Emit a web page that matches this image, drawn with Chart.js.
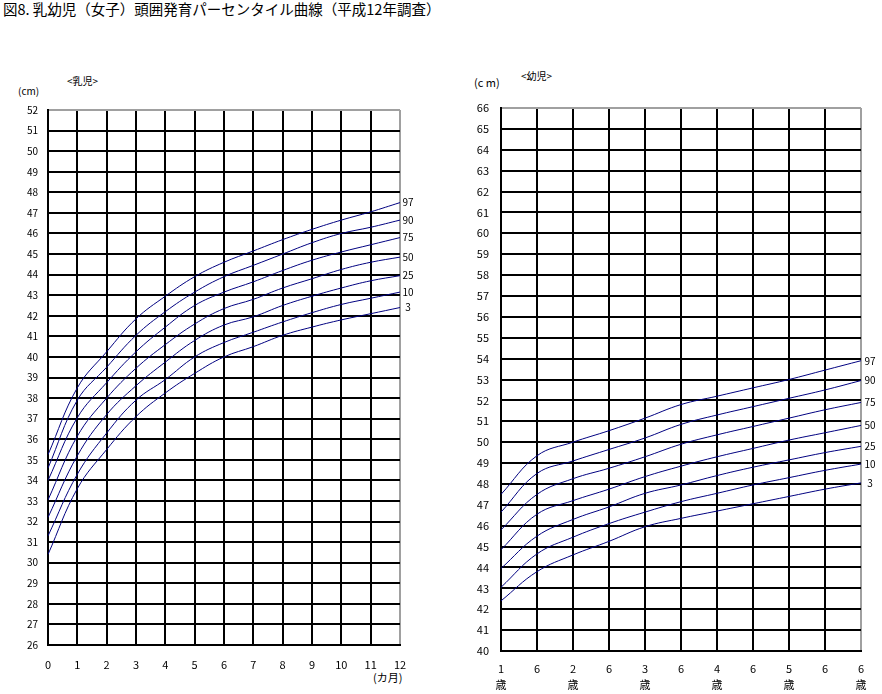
<!DOCTYPE html>
<html lang="ja">
<head>
<meta charset="utf-8">
<script src="https://cdn.jsdelivr.net/npm/chart.js@4"></script>
<style>
    html, body { margin: 0; padding: 0; background: #fff; }
    body { width: 882px; height: 694px; position: relative; overflow: hidden;
           font-family: "Noto Sans CJK JP", sans-serif; color: #000; }
    .txt { position: absolute; white-space: nowrap; line-height: 1; }
    canvas { position: absolute; }
</style>
</head>
<body>
<div class="txt" style="left:3px;top:2px;font-size:14.5px;">図8. 乳幼児（女子）頭囲発育パーセンタイル曲線（平成12年調査）</div>
<div class="txt" style="left:67px;top:76px;font-size:10px;">&lt;乳児&gt;</div>
<div class="txt" style="left:18px;top:86px;font-size:10px;">(cm)</div>
<div class="txt" style="left:373px;top:672px;font-size:11px;">(カ月)</div>
<div class="txt" style="left:521px;top:71px;font-size:10px;">&lt;幼児&gt;</div>
<div class="txt" style="left:474px;top:77px;font-size:11px;">(c m)</div>

<canvas id="infantChart" width="440" height="634" style="left:0;top:60px;"></canvas>
<canvas id="childChart" width="442" height="634" style="left:440px;top:60px;"></canvas>

<script>
// ==================== DATA ====================

const percentiles = ['97', '90', '75', '50', '25', '10', '3'];

// 乳児: 0-12 months
const infantMonths = [0, 1, 2, 3, 4, 5, 6, 7, 8, 9, 10, 11, 12];
const infant97 = [35.25, 38.5, 40.25, 41.85, 42.95, 43.9, 44.6, 45.15, 45.7, 46.2, 46.65, 47.05, 47.5];
const infant90 = [34.6, 37.9, 39.5, 41.05, 42.2, 43.15, 43.9, 44.45, 45.0, 45.55, 46.0, 46.3, 46.65];
const infant75 = [34.0, 37.05, 38.75, 40.25, 41.45, 42.5, 43.15, 43.65, 44.2, 44.7, 45.1, 45.45, 45.8];
const infant50 = [33.05, 36.15, 38.0, 39.45, 40.6, 41.6, 42.35, 42.8, 43.35, 43.8, 44.25, 44.6, 44.85];
const infant25 = [32.2, 35.2, 37.2, 38.6, 39.75, 40.8, 41.55, 41.95, 42.5, 42.95, 43.35, 43.7, 43.95];
const infant10 = [31.3, 34.3, 36.3, 37.9, 38.9, 40.0, 40.7, 41.2, 41.7, 42.15, 42.55, 42.85, 43.15];
const infant3 = [30.4, 33.6, 35.5, 37.1, 38.25, 39.2, 40.0, 40.5, 41.05, 41.45, 41.8, 42.1, 42.4];

// 幼児: 1-6 years, half-year steps
const childYears = [1, 1.5, 2, 2.5, 3, 3.5, 4, 4.5, 5, 5.5, 6];
const child97 = [47.5, 49.35, 50.0, 50.55, 51.15, 51.8, 52.2, 52.6, 53.0, 53.45, 53.9];
const child90 = [46.65, 48.5, 49.1, 49.65, 50.2, 50.85, 51.3, 51.7, 52.1, 52.5, 52.95];
const child75 = [45.8, 47.5, 48.25, 48.75, 49.3, 49.9, 50.35, 50.75, 51.15, 51.55, 51.9];
const child50 = [44.85, 46.55, 47.2, 47.75, 48.35, 48.85, 49.3, 49.7, 50.1, 50.45, 50.8];
const child25 = [43.95, 45.5, 46.3, 46.9, 47.55, 47.95, 48.4, 48.8, 49.15, 49.5, 49.8];
const child10 = [43.05, 44.65, 45.45, 46.1, 46.65, 47.15, 47.55, 47.95, 48.3, 48.65, 48.95];
const child3 = [42.4, 43.8, 44.6, 45.25, 45.95, 46.35, 46.7, 47.05, 47.4, 47.75, 48.05];

// ==================== HELPERS ====================

const FONT = '"Noto Sans CJK JP", sans-serif';
const LINE_COLOR = '#000080';

function buildDatasets(xs, series) {
    return series.map((ys, i) => ({
        label: percentiles[i],
        data: ys.map((y, j) => ({ x: xs[j], y: y })),
        borderColor: LINE_COLOR,
        borderWidth: 1,
        pointRadius: 0,
        fill: false,
        tension: 0.4
    }));
}

// percentile names at the right end of each curve
const endLabels = {
    id: 'endLabels',
    afterDatasetsDraw(chart, args, opts) {
        const ctx = chart.ctx;
        ctx.save();
        ctx.font = opts.size + 'px ' + FONT;
        ctx.fillStyle = '#000';
        ctx.textAlign = 'center';
        ctx.textBaseline = 'middle';
        chart.data.datasets.forEach((ds, i) => {
            const pts = chart.getDatasetMeta(i).data;
            const last = pts[pts.length - 1];
            ctx.fillText(ds.label, chart.chartArea.right + opts.offset, last.y);
        });
        ctx.restore();
    }
};

function gridColor(max) {
    return (c) => (c.tick && c.tick.value === max) ? '#a0a0a0' : '#000';
}

// ==================== INFANT CHART ====================

function setupInfantChart() {
    const ctx = document.getElementById('infantChart');
    new Chart(ctx, {
        type: 'line',
        data: {
            datasets: buildDatasets(infantMonths,
                [infant97, infant90, infant75, infant50, infant25, infant10, infant3])
        },
        plugins: [endLabels],
        options: {
            responsive: false,
            animation: false,
            layout: { padding: { left: 0, right: 40, top: 50, bottom: 0 } },
            plugins: {
                legend: { display: false },
                tooltip: { enabled: false },
                endLabels: { size: 10, offset: 8 }
            },
            scales: {
                x: {
                    type: 'linear',
                    min: 0,
                    max: 12,
                    afterFit: (s) => { s.height = 49; },
                    border: { color: '#000', width: 2 },
                    grid: { color: gridColor(12), lineWidth: 2, drawTicks: false },
                    ticks: { stepSize: 1, padding: 13, color: '#000', maxRotation: 0,
                             font: { family: FONT, size: 11 } }
                },
                y: {
                    min: 26,
                    max: 52,
                    afterFit: (s) => { s.width = 48; },
                    border: { color: '#000', width: 2 },
                    grid: { color: gridColor(52), lineWidth: 2, drawTicks: false },
                    ticks: { stepSize: 1, padding: 10, color: '#000',
                             font: { family: FONT, size: 10 } }
                }
            }
        }
    });
}

// ==================== CHILD CHART ====================

function setupChildChart() {
    const ctx = document.getElementById('childChart');
    new Chart(ctx, {
        type: 'line',
        data: {
            datasets: buildDatasets(childYears,
                [child97, child90, child75, child50, child25, child10, child3])
        },
        plugins: [endLabels],
        options: {
            responsive: false,
            animation: false,
            layout: { padding: { left: 0, right: 21, top: 48, bottom: 0 } },
            plugins: {
                legend: { display: false },
                tooltip: { enabled: false },
                endLabels: { size: 10, offset: 9 }
            },
            scales: {
                x: {
                    type: 'linear',
                    min: 1,
                    max: 6,
                    afterFit: (s) => { s.height = 43; },
                    border: { color: '#000', width: 2 },
                    grid: { color: gridColor(6), lineWidth: 2, drawTicks: false },
                    ticks: {
                        stepSize: 0.5,
                        padding: 10,
                        color: '#000',
                        maxRotation: 0,
                        autoSkip: false,
                        font: { family: FONT, size: 11, lineHeight: 1.45 },
                        callback: (v) => Number.isInteger(v) ? [String(v), '歳'] : '6'
                    }
                },
                y: {
                    min: 40,
                    max: 66,
                    afterFit: (s) => { s.width = 61; },
                    border: { color: '#000', width: 2 },
                    grid: { color: gridColor(66), lineWidth: 2, drawTicks: false },
                    ticks: { stepSize: 1, padding: 12, color: '#000',
                             font: { family: FONT, size: 11 } }
                }
            }
        }
    });
}

setupInfantChart();
setupChildChart();
</script>
</body>
</html>
